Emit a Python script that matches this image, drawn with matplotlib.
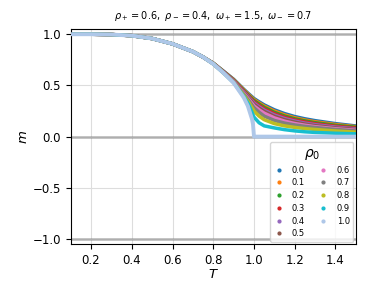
import numpy as np
import matplotlib
matplotlib.use("Agg")
import matplotlib.pyplot as plt
from matplotlib.lines import Line2D

# temperature grid (shared low-T part + finer part around T_c)
T_low = [0.10, 0.20, 0.30, 0.40, 0.50, 0.60, 0.70, 0.75]
m_low = [1.000, 1.000, 0.997, 0.986, 0.958, 0.906, 0.830, 0.777]
T_high = [0.80, 0.85, 0.90, 0.95, 0.975, 1.00, 1.025, 1.05, 1.10, 1.15, 1.20, 1.25, 1.30, 1.40, 1.50]

rho0 = [0.0, 0.1, 0.2, 0.3, 0.4, 0.5, 0.6, 0.7, 0.8, 0.9]
m_high = {
    0.0: [0.718, 0.640, 0.560, 0.462, 0.416, 0.372, 0.340, 0.310, 0.262, 0.225, 0.196, 0.174, 0.156, 0.127, 0.104],
    0.1: [0.717, 0.637, 0.556, 0.456, 0.408, 0.362, 0.329, 0.298, 0.249, 0.212, 0.184, 0.162, 0.145, 0.118, 0.097],
    0.2: [0.716, 0.635, 0.552, 0.450, 0.400, 0.352, 0.318, 0.286, 0.237, 0.201, 0.174, 0.153, 0.136, 0.110, 0.091],
    0.3: [0.715, 0.633, 0.548, 0.444, 0.392, 0.340, 0.305, 0.272, 0.224, 0.189, 0.163, 0.143, 0.126, 0.101, 0.083],
    0.4: [0.714, 0.631, 0.545, 0.437, 0.383, 0.328, 0.292, 0.259, 0.211, 0.177, 0.152, 0.132, 0.117, 0.093, 0.076],
    0.5: [0.713, 0.629, 0.541, 0.430, 0.373, 0.315, 0.278, 0.245, 0.198, 0.165, 0.141, 0.122, 0.107, 0.085, 0.069],
    0.6: [0.712, 0.627, 0.537, 0.422, 0.362, 0.300, 0.262, 0.229, 0.183, 0.151, 0.128, 0.111, 0.097, 0.077, 0.062],
    0.7: [0.711, 0.625, 0.533, 0.413, 0.350, 0.282, 0.238, 0.200, 0.158, 0.132, 0.114, 0.100, 0.089, 0.070, 0.055],
    0.8: [0.711, 0.624, 0.530, 0.403, 0.333, 0.250, 0.200, 0.165, 0.127, 0.105, 0.090, 0.079, 0.070, 0.055, 0.044],
    0.9: [0.710, 0.623, 0.527, 0.392, 0.310, 0.190, 0.135, 0.105, 0.085, 0.068, 0.056, 0.047, 0.041, 0.033, 0.027],
}

# rho0 = 1.0 (sharp transition at T = 1)
T_one = [0.10, 0.20, 0.30, 0.40, 0.50, 0.60, 0.70, 0.75, 0.80, 0.85, 0.90, 0.95, 0.97, 0.99, 0.995, 1.00, 1.50]
m_one = [1.000, 1.000, 0.997, 0.986, 0.958, 0.906, 0.830, 0.777, 0.710, 0.623, 0.525, 0.380, 0.298, 0.172, 0.122, 0.000, 0.000]

colors = plt.rcParams['axes.prop_cycle'].by_key()['color']

fig = plt.figure(figsize=(3.68, 2.97), dpi=100)
ax = fig.add_axes([0.192, 0.178, 0.775, 0.724])

for yv in [1, 0, -1]:
    ax.axhline(yv, color='grey', lw=2, alpha=0.5, zorder=1)

handles = []
for i, r in enumerate(rho0):
    ax.plot(T_low + T_high, m_low + m_high[r], color=colors[i], lw=2.5, zorder=2)
    handles.append(Line2D([], [], color=colors[i], marker='o', ls='none', ms=2, label=f'{r:.1f}'))

ax.plot(T_one, m_one, color='#aec7e8', lw=2.8, zorder=3)
handles.append(Line2D([], [], color='#aec7e8', marker='o', ls='none', ms=2, label='1.0'))

ax.set_xlim(0.1, 1.5)
ax.set_ylim(-1.05, 1.05)
ax.set_xticks([0.2, 0.4, 0.6, 0.8, 1.0, 1.2, 1.4])
ax.set_yticks([-1.0, -0.5, 0.0, 0.5, 1.0])
ax.tick_params(labelsize=8.5, width=0.8, length=3.5)
ax.grid(True, color='#dddddd', lw=0.8)
ax.set_axisbelow(True)
ax.set_xlabel('$T$', fontsize=9.5, labelpad=1)
ax.set_ylabel('$m$', fontsize=9.5, labelpad=2)
ax.set_title(r'$\rho_+=0.6,\ \rho_-=0.4,\ \omega_+=1.5,\ \omega_-=0.7$', fontsize=7, pad=7)

leg = ax.legend(handles=handles, ncol=2, loc='lower right', fontsize=6, title=r'$\rho_0$',
                title_fontsize=10, handlelength=1.2, handletextpad=1.0, columnspacing=1.6,
                labelspacing=0.45, borderpad=0.4, borderaxespad=0.3)

fig.savefig('out.png', dpi=100)
